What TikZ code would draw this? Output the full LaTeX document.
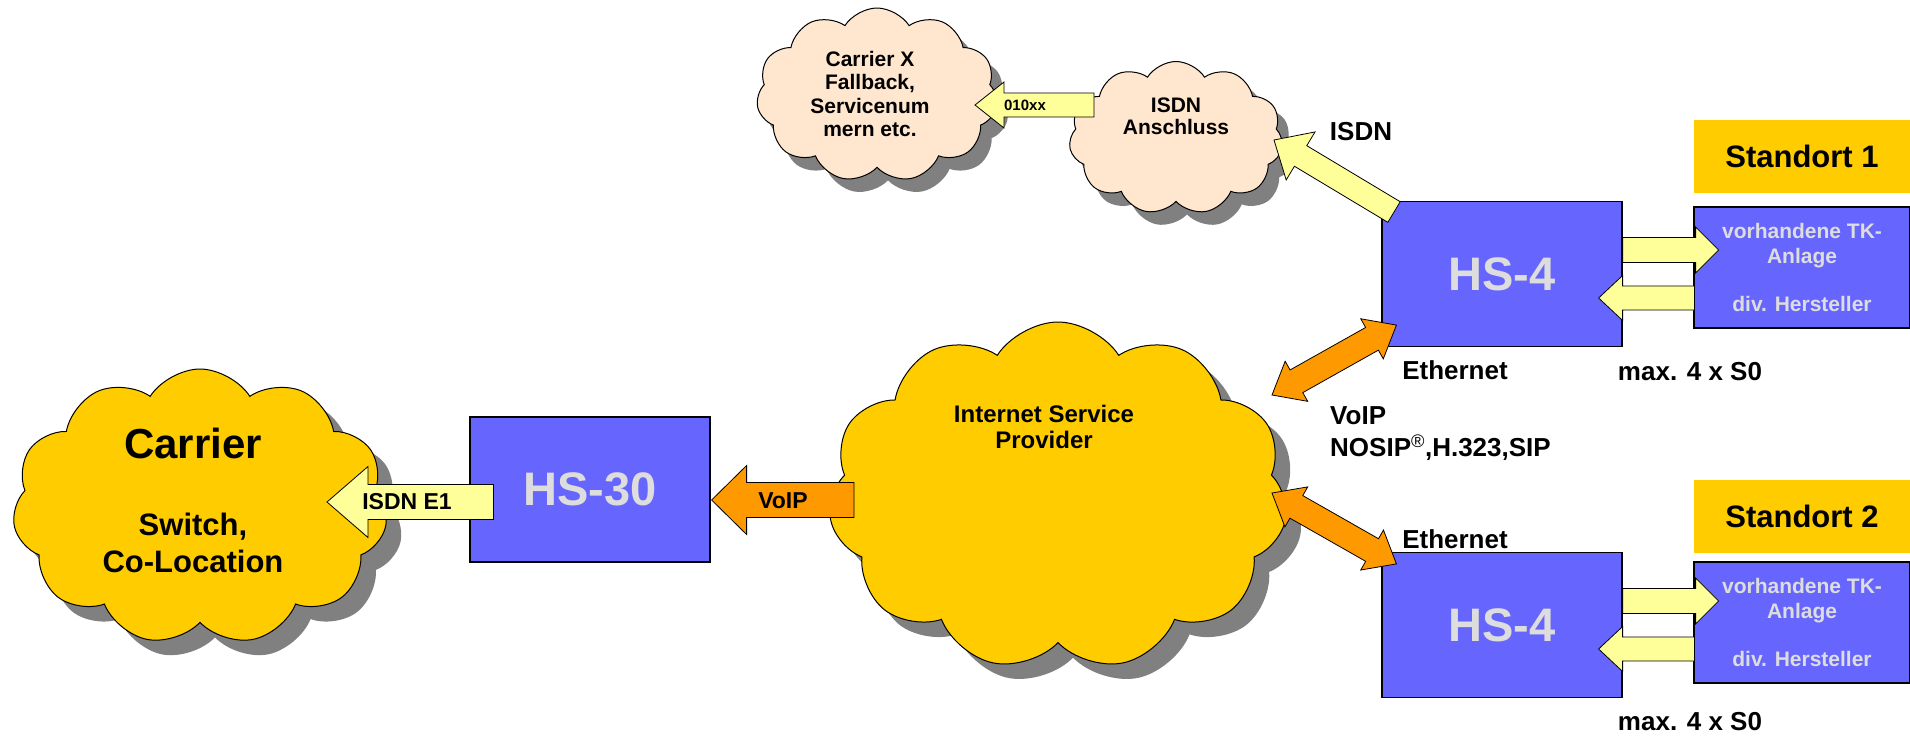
\documentclass[tikz,border=0pt]{standalone}
\usepackage{fontspec}
\setmainfont{Liberation Sans}
\usetikzlibrary{shapes.symbols,shadows,calc}

\definecolor{hsblue}{HTML}{6666FF}
\definecolor{cloudgold}{HTML}{FFCC00}
\definecolor{cloudpeach}{HTML}{FFE6CE}
\definecolor{paleyellow}{HTML}{FFFF99}
\definecolor{voiporange}{HTML}{FF9900}
\definecolor{boxtext}{HTML}{DDDDDD}
\definecolor{shadowgray}{HTML}{808080}

\newcommand{\txtsize}[2]{\fontsize{#1}{#2}\selectfont\bfseries}

% block arrow: [style]{tail}{tip}{half shaft}{half head}{head length}
\newcommand{\blockarrow}[6][]{%
  \coordinate (ba-s) at #2;
  \coordinate (ba-t) at #3;
  \coordinate (ba-b) at ($(ba-t)!#6!(ba-s)$);
  \draw[#1] ($(ba-s)!#4!90:(ba-t)$) -- ($(ba-b)!#4!90:(ba-t)$) -- ($(ba-b)!#5!90:(ba-t)$)
    -- (ba-t) -- ($(ba-b)!#5!-90:(ba-t)$) -- ($(ba-b)!#4!-90:(ba-t)$) -- ($(ba-s)!#4!-90:(ba-t)$) -- cycle;
}
% block arrow with two heads: [style]{end a}{end b}{half shaft}{half head}{head length}
\newcommand{\blockdarrow}[6][]{%
  \coordinate (da-a) at #2;
  \coordinate (da-b) at #3;
  \coordinate (da-ab) at ($(da-a)!#6!(da-b)$);
  \coordinate (da-bb) at ($(da-b)!#6!(da-a)$);
  \draw[#1] (da-a) -- ($(da-ab)!#5!90:(da-b)$) -- ($(da-ab)!#4!90:(da-b)$) -- ($(da-bb)!#4!-90:(da-a)$)
    -- ($(da-bb)!#5!-90:(da-a)$) -- (da-b) -- ($(da-bb)!#5!90:(da-a)$) -- ($(da-bb)!#4!90:(da-a)$)
    -- ($(da-ab)!#4!-90:(da-b)$) -- ($(da-ab)!#5!-90:(da-b)$) -- cycle;
}

\tikzset{
  hsbox/.style={draw, line width=1.2pt, fill=hsblue, text=boxtext, font=\txtsize{47}{50},
    minimum width=240pt, minimum height=145pt, inner sep=0pt},
  tkbox/.style={draw, line width=1.2pt, fill=hsblue, text=boxtext, font=\txtsize{21}{25},
    align=center, minimum width=216pt, minimum height=121pt, inner sep=0pt},
  sitebox/.style={fill=cloudgold, font=\txtsize{31}{34}, minimum width=216pt, minimum height=73pt},
  wolke/.style={cloud, cloud puffs=11, cloud puff arc=115, cloud ignores aspect, draw, line width=1pt},
  bigshadow/.style={drop shadow={shadow xshift=15pt, shadow yshift=-15pt, fill=shadowgray, opacity=1}},
  smallshadow/.style={drop shadow={shadow xshift=11pt, shadow yshift=-13pt, fill=shadowgray, opacity=1}},
  lbl/.style={font=\txtsize{26}{32}, inner sep=0pt},
  yarrow/.style={draw, line width=0.8pt, fill=paleyellow},
  oarrow/.style={draw, line width=0.8pt, fill=voiporange},
}

\begin{document}
\begin{tikzpicture}[x=1pt,y=-1pt]
\useasboundingbox (0,0) rectangle (1910,736);

% clouds
\node[wolke, bigshadow, fill=cloudgold, minimum width=375pt, minimum height=276pt] (carrier) at (200,507) {};
\node[wolke, bigshadow, fill=cloudgold, minimum width=459pt, minimum height=348pt] (isp) at (1058,496) {};
\node[wolke, smallshadow, fill=cloudpeach, minimum width=241pt, minimum height=174pt] (carrierx) at (877,95) {};
\node[wolke, smallshadow, fill=cloudpeach, minimum width=214pt, minimum height=153pt] (anschluss) at (1176,138) {};

\node[font=\txtsize{42}{48}] (carriertitle) at (193,443) {Carrier};
\node[font=\txtsize{31}{37}, align=center] (carriersub) at (193,543) {Switch,\\Co-Location};
\node[font=\txtsize{24}{26}, align=center] (isptext) at (1044,427) {Internet Service\\Provider};
\node[font=\txtsize{21}{23.5}, align=center] (carrierxtext) at (870,94) {Carrier X\\Fallback,\\Servicenum\\mern etc.};
\node[font=\txtsize{21}{22}, align=center] (anschlusstext) at (1176,116) {ISDN\\Anschluss};

% boxes
\node[hsbox] (hs30) at (590,489.5) {HS-30};
\node[hsbox] (hsa) at (1502,274) {HS-4};
\node[hsbox] (hsb) at (1502,625) {HS-4};
\node[sitebox] (sitea) at (1802,156.5) {Standort 1};
\node[sitebox] (siteb) at (1802,516.5) {Standort 2};
\node[tkbox] (tka) at (1802,267.5) {vorhandene TK-\\Anlage\\[23pt]div. Hersteller};
\node[tkbox] (tkb) at (1802,622.5) {vorhandene TK-\\Anlage\\[23pt]div. Hersteller};

% labels
\node[lbl] (isdnlbl) at (1361,132) {ISDN};
\node[lbl] (etha) at (1455,370) {Ethernet};
\node[lbl] (ethb) at (1455,539) {Ethernet};
\node[lbl] (s0a) at (1690,372) {max. 4 x S0};
\node[lbl] (s0b) at (1690,722) {max. 4 x S0};
\node[lbl, anchor=west, align=left] (voiplbl) at (1330,434) {VoIP\\NOSIP\textsuperscript{\mdseries\textregistered},H.323,SIP};

% arrow ends
\coordinate (e1tail) at ($(hs30.west)+(24,12.5)$);
\coordinate (e1tip) at (327,502);
\coordinate (voiptail) at (854,500);
\coordinate (voiptip) at ($(hs30.east)+(1,10.5)$);
\coordinate (xxtail) at (1094,105);
\coordinate (xxtip) at (975,105);
\coordinate (isdntail) at (1394,212);
\coordinate (isdntip) at (1274,140);
\coordinate (ispup) at (1272,395);
\coordinate (ispdown) at (1272,493);
\coordinate (hsacorner) at ($(hsa.south west)+(15,-22)$);
\coordinate (hsbcorner) at ($(hsb.north west)+(15,12)$);

% arrows
\blockarrow[yarrow]{(e1tail)}{(e1tip)}{17.5pt}{35.5pt}{41pt}
\blockarrow[oarrow]{(voiptail)}{(voiptip)}{17.5pt}{34.5pt}{35pt}
\blockarrow[yarrow]{(xxtail)}{(xxtip)}{12pt}{23pt}{29pt}
\blockarrow[yarrow]{(isdntail)}{(isdntip)}{12pt}{28pt}{31pt}
\blockdarrow[oarrow]{(ispup)}{(hsacorner)}{13pt}{23pt}{28pt}
\blockdarrow[oarrow]{(ispdown)}{(hsbcorner)}{13pt}{23pt}{28pt}
\blockarrow[yarrow]{($(hsa.east)+(0,-24)$)}{($(hsa.east)+(96,-24)$)}{12.5pt}{23pt}{23pt}
\blockarrow[yarrow]{($(tka.west)+(1,30.5)$)}{($(hsa.east)+(-24,24)$)}{12pt}{22.5pt}{24pt}
\blockarrow[yarrow]{($(hsb.east)+(0,-24)$)}{($(hsb.east)+(96,-24)$)}{12.5pt}{23pt}{23pt}
\blockarrow[yarrow]{($(tkb.west)+(1,26.5)$)}{($(hsb.east)+(-24,24)$)}{12pt}{22.5pt}{24pt}

\node[font=\txtsize{23}{23}] (e1lbl) at (407,502) {ISDN E1};
\node[font=\txtsize{23}{23}] (voipflow) at (783,501) {VoIP};
\node[font=\txtsize{15}{15}] (xxlbl) at (1025,105) {010xx};
\end{tikzpicture}
\end{document}
